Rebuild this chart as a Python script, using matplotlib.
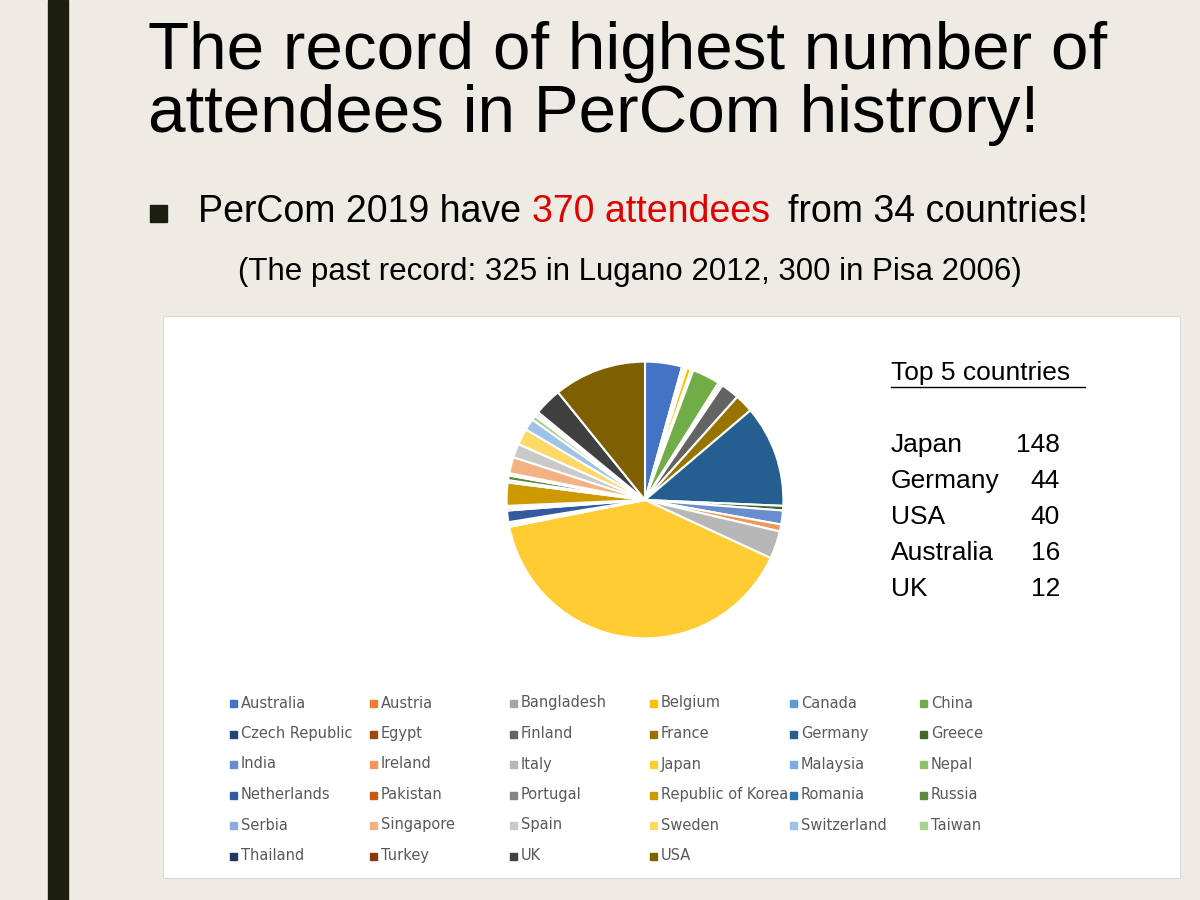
import matplotlib
matplotlib.use("Agg")
import matplotlib.pyplot as plt
from matplotlib.patches import Rectangle

countries = ["Australia","Austria","Bangladesh","Belgium","Canada","China",
             "Czech Republic","Egypt","Finland","France","Germany","Greece",
             "India","Ireland","Italy","Japan","Malaysia","Nepal",
             "Netherlands","Pakistan","Portugal","Republic of Korea","Romania","Russia",
             "Serbia","Singapore","Spain","Sweden","Switzerland","Taiwan",
             "Thailand","Turkey","UK","USA"]
attendees = [16,1,1,2,1,12,1,1,8,8,44,2,6,3,12,148,1,1,5,1,1,10,1,2,1,7,6,7,5,2,1,1,12,40]
colors = ["#4472C4","#ED7D31","#A5A5A5","#FFC000","#5B9BD5","#70AD47",
          "#264478","#9E480E","#636363","#997300","#255E91","#43682B",
          "#698ED0","#F1975A","#B7B7B7","#FFCD33","#7CAFDD","#8CC168",
          "#335AA1","#C65911","#848484","#CC9A00","#2E75B6","#5A8A39",
          "#8FAADC","#F4B183","#C9C9C9","#FFD966","#9DC3E6","#A9D18E",
          "#1F3864","#843C0C","#404040","#7F6000"]
top5 = [("Japan","148"),("Germany","44"),("USA","40"),("Australia","16"),("UK","12")]

W, H = 1200, 900
fig = plt.figure(figsize=(12, 9), dpi=100)
fig.patch.set_facecolor("#EEEBE4")
def px(x, y): return x / W, 1 - y / H

fig.add_artist(Rectangle(px(48, 900), 20/W, 1, transform=fig.transFigure, color="#1C1F10"))
fig.text(*px(148, 52), "The record of highest number of", fontsize=48.5, va="center", family="Liberation Sans")
fig.text(*px(148, 115), "attendees in PerCom histrory!", fontsize=48.5, va="center", family="Liberation Sans")
fig.add_artist(Rectangle(px(150, 222), 17/W, 17/H, transform=fig.transFigure, color="#1C1F10"))
fig.text(*px(198, 212), "PerCom 2019 have", fontsize=27, va="center", family="Liberation Sans")
fig.text(*px(532, 212), "370 attendees", fontsize=27, va="center", color="#E00000", family="Liberation Sans")
fig.text(*px(788, 212), "from 34 countries!", fontsize=27, va="center", family="Liberation Sans")
fig.text(*px(238, 272), "(The past record: 325 in Lugano 2012, 300 in Pisa 2006)", fontsize=22.5, va="center", family="Liberation Sans")

fig.add_artist(Rectangle(px(163, 878), (1180-163)/W, (878-316)/H, transform=fig.transFigure,
                         facecolor="white", edgecolor="#D9D9D9", lw=0.8, zorder=-5))

ax = fig.add_axes([(645-173)/W, 1-(500+173)/H, 346/W, 346/H])
ax.set_zorder(5)
ax.pie(attendees, colors=colors, startangle=90, counterclock=False,
       wedgeprops=dict(edgecolor="white", linewidth=1.5))
ax.set_aspect("equal")

fig.text(*px(891, 373), "Top 5 countries", fontsize=19, va="center", family="Liberation Sans")
fig.add_artist(plt.Line2D([891/W, 1085/W], [1-387/H]*2, transform=fig.transFigure, color="black", lw=1))
for i, (c, v) in enumerate(top5):
    y = 445 + i * 36
    fig.text(*px(891, y), c, fontsize=19, va="center", family="Liberation Sans")
    fig.text(*px(1060, y), v, fontsize=19, va="center", ha="right", family="Liberation Sans")

colx = [230, 370, 510, 650, 790, 920]
for i, (c, col) in enumerate(zip(countries, colors)):
    r, k = divmod(i, 6)
    x, y = colx[k], 703 + r * 30.5
    fig.add_artist(Rectangle(px(x, y + 4), 7/W, 7/H, transform=fig.transFigure, color=col))
    fig.text(*px(x + 11, y), c, fontsize=10.5, va="center", color="#595959")

fig.savefig("out.png", dpi=100)
